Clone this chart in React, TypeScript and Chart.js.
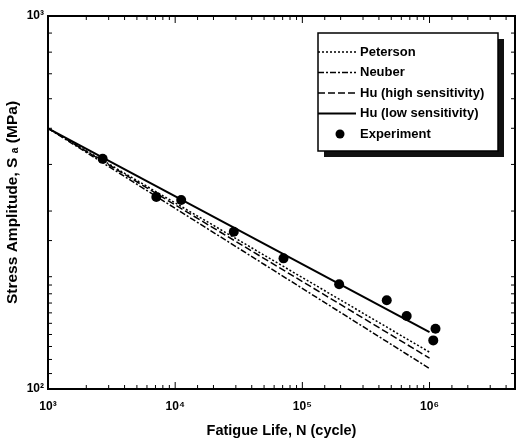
import React, { useEffect, useRef } from 'react';
import { Chart, registerables } from 'chart.js';

Chart.register(...registerables);

// ---- data ----
const lineCycles = [1e3, 1e6];
const petersonStress = [500, 125.5];
const neuberStress = [500, 113.5];
const huHighStress = [500, 121];
const huLowStress = [500, 142];

const expCycles = [2690, 7110, 11150, 28900, 71100, 194600, 461000, 661000, 1114000, 1070000];
const expStress = [414, 327, 321, 264, 224, 191, 173, 157, 145, 135];

const xDecades = [1e3, 1e4, 1e5, 1e6];
const xDecadeLabels = ['10³', '10⁴', '10⁵', '10⁶'];
const yDecades = [1e2, 1e3];
const yDecadeLabels = ['10²', '10³'];

const FONT = '"Liberation Sans", Arial, "DejaVu Sans", sans-serif';

const toPts = (xs: number[], ys: number[]) => xs.map((x, i) => ({ x, y: ys[i] }));
const isDecade = (v: number) => Math.abs(Math.log10(v) - Math.round(Math.log10(v))) < 1e-9;

const framePlugin = {
  id: 'frameTicks',
  afterDatasetsDraw(chart: any) {
    const { ctx, chartArea, scales } = chart;
    const { left, right, top, bottom } = chartArea;
    const xs = scales.x;
    const ys = scales.y;
    ctx.save();
    ctx.strokeStyle = '#000';
    ctx.lineWidth = 1;
    ctx.beginPath();
    xs.ticks.forEach((t: any) => {
      const px = xs.getPixelForValue(t.value);
      if (px < left - 0.5 || px > right - 1) return;
      const len = isDecade(t.value) ? 7 : 4;
      ctx.moveTo(px, bottom);
      ctx.lineTo(px, bottom - len);
      ctx.moveTo(px, top);
      ctx.lineTo(px, top + len);
    });
    ys.ticks.forEach((t: any) => {
      const py = ys.getPixelForValue(t.value);
      if (py < top + 1 || py > bottom - 1) return;
      const len = isDecade(t.value) ? 7 : 4;
      ctx.moveTo(left, py);
      ctx.lineTo(left + len, py);
      ctx.moveTo(right, py);
      ctx.lineTo(right - len, py);
    });
    ctx.stroke();
    ctx.lineWidth = 2;
    ctx.strokeRect(left, top, right - left, bottom - top);
    ctx.restore();
  },
};

const legendPlugin = {
  id: 'boxLegend',
  afterDraw(chart: any) {
    const { ctx, chartArea } = chart;
    const bx = chartArea.right - 197;
    const by = chartArea.top + 17;
    const bw = 180;
    const bh = 118;
    ctx.save();
    ctx.fillStyle = '#111';
    ctx.fillRect(bx + 6, by + 6, bw, bh);
    ctx.fillStyle = '#fff';
    ctx.fillRect(bx, by, bw, bh);
    ctx.strokeStyle = '#000';
    ctx.lineWidth = 1.5;
    ctx.strokeRect(bx, by, bw, bh);
    ctx.font = `bold 13px ${FONT}`;
    ctx.textBaseline = 'middle';
    ctx.textAlign = 'left';
    chart.data.datasets.forEach((ds: any, i: number) => {
      const y = by + 19 + i * 20.5;
      if (ds.showLine === false) {
        ctx.fillStyle = '#000';
        ctx.beginPath();
        ctx.arc(bx + 22, y, 4.5, 0, Math.PI * 2);
        ctx.fill();
      } else {
        ctx.strokeStyle = '#000';
        ctx.lineWidth = ds.borderWidth;
        ctx.setLineDash(ds.borderDash || []);
        ctx.beginPath();
        ctx.moveTo(bx, y);
        ctx.lineTo(bx + 38, y);
        ctx.stroke();
        ctx.setLineDash([]);
      }
      ctx.fillStyle = '#000';
      ctx.fillText(ds.label, bx + 42, y);
    });
    ctx.restore();
  },
};

export default function App() {
  const ref = useRef<HTMLCanvasElement | null>(null);

  useEffect(() => {
    document.body.style.margin = '0';
    if (!ref.current) return;
    const chart = new Chart(ref.current, {
      type: 'line',
      data: {
        datasets: [
          {
            label: 'Peterson',
            data: toPts(lineCycles, petersonStress),
            borderColor: '#000',
            borderWidth: 1.5,
            borderDash: [2, 2],
            pointRadius: 0,
            fill: false,
          },
          {
            label: 'Neuber',
            data: toPts(lineCycles, neuberStress),
            borderColor: '#000',
            borderWidth: 1.5,
            borderDash: [6, 2, 2, 2],
            pointRadius: 0,
            fill: false,
          },
          {
            label: 'Hu (high sensitivity)',
            data: toPts(lineCycles, huHighStress),
            borderColor: '#000',
            borderWidth: 1.5,
            borderDash: [7, 3],
            pointRadius: 0,
            fill: false,
          },
          {
            label: 'Hu (low sensitivity)',
            data: toPts(lineCycles, huLowStress),
            borderColor: '#000',
            borderWidth: 2,
            pointRadius: 0,
            fill: false,
          },
          {
            label: 'Experiment',
            data: toPts(expCycles, expStress),
            showLine: false,
            borderColor: '#000',
            backgroundColor: '#000',
            pointRadius: 5,
            pointBorderWidth: 0,
          },
        ],
      },
      options: {
        responsive: false,
        animation: false,
        events: [],
        layout: { padding: { top: 16, right: 2, left: 0, bottom: 0 } },
        plugins: {
          legend: { display: false },
          tooltip: { enabled: false },
        },
        scales: {
          x: {
            type: 'logarithmic',
            min: 1e3,
            max: 4.7e6,
            grid: { display: false, drawTicks: false },
            border: { display: false },
            ticks: {
              autoSkip: false,
              maxRotation: 0,
              padding: 10,
              color: '#000',
              font: { family: FONT, size: 12, weight: 'bold' },
              callback: (v: any) => {
                const i = xDecades.findIndex((d) => Math.abs(d - Number(v)) < 1e-6 * d);
                return i >= 0 ? xDecadeLabels[i] : '';
              },
            },
            title: {
              display: true,
              text: 'Fatigue Life, N (cycle)',
              color: '#000',
              font: { family: FONT, size: 14.5, weight: 'bold' },
              padding: { top: 0, bottom: 4 },
            },
            afterFit: (s: any) => {
              s.height = 55;
              s.paddingLeft = 0;
              s.paddingRight = 0;
            },
          },
          y: {
            type: 'logarithmic',
            min: 100,
            max: 1000,
            grid: { display: false, drawTicks: false },
            border: { display: false },
            ticks: {
              autoSkip: false,
              padding: 4,
              color: '#000',
              font: { family: FONT, size: 12, weight: 'bold' },
              callback: (v: any) => {
                const i = yDecades.findIndex((d) => Math.abs(d - Number(v)) < 1e-6 * d);
                return i >= 0 ? yDecadeLabels[i] : '';
              },
            },
            title: {
              display: true,
              text: 'Stress Amplitude, S \u2090 (MPa)',
              color: '#000',
              font: { family: FONT, size: 15.5, weight: 'bold' },
              padding: { top: 3, bottom: 0 },
            },
            afterFit: (s: any) => {
              s.width = 48;
              s.paddingTop = 0;
              s.paddingBottom = 0;
            },
          },
        },
      },
      plugins: [framePlugin, legendPlugin],
    } as any);
    return () => chart.destroy();
  }, []);

  return (
    <div style={{ width: 520, height: 444, background: '#fff' }}>
      <canvas ref={ref} width={520} height={444} />
    </div>
  );
}
